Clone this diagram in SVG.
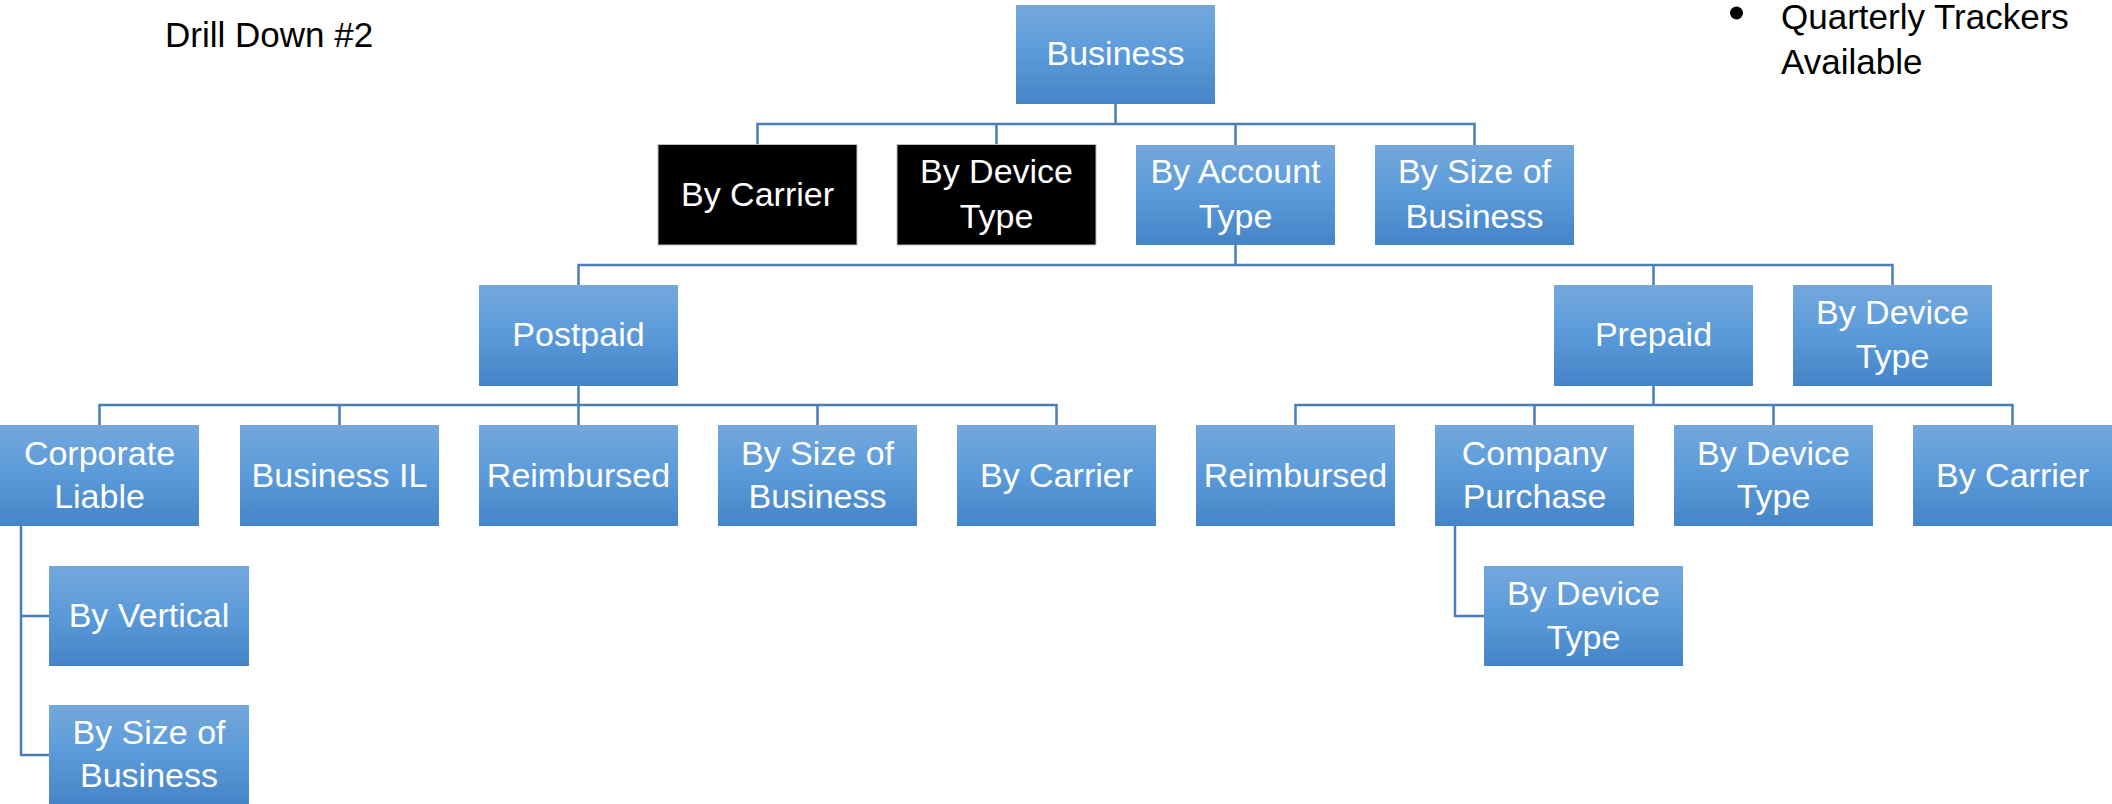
<svg xmlns="http://www.w3.org/2000/svg" width="2112" height="804" viewBox="0 0 2112 804">
<defs>
<linearGradient id="g" x1="0" y1="0" x2="0" y2="1">
<stop offset="0" stop-color="#74A8DC"/>
<stop offset="0.5" stop-color="#5A9ADA"/>
<stop offset="1" stop-color="#4585C7"/>
</linearGradient>
<style>
.b{fill:url(#g)}
.k{fill:#000;stroke:#c0c0c0;stroke-width:1}
.t{font-family:"Liberation Sans",Arial,sans-serif;font-size:34px;fill:#fff;text-anchor:middle}
.d{font-family:"Liberation Sans",Arial,sans-serif;font-size:35px;fill:#000}
.c{fill:none;stroke:#4A7EBB;stroke-width:2.5}
</style>
</defs>
<rect width="2112" height="804" fill="#fff"/>
<text class="d" x="165" y="47">Drill Down #2</text>
<g id="note">
<circle cx="1736.5" cy="13" r="6.5" fill="#000"/>
<text class="d" x="1781" y="29">Quarterly Trackers</text>
<text class="d" x="1781" y="74">Available</text>
</g>
<g id="connectors">
<path class="c" d="M1115.5 104V124M757.5 145V124H1474.5V145M996.5 124V145M1235.5 124V145"/>
<path class="c" d="M1235.5 245V265M578.5 285V265H1892.5V285M1653.5 265V285"/>
<path class="c" d="M578.5 386V405M99.5 425V405H1056.5V425M339.5 405V425M578.5 405V425M817.5 405V425"/>
<path class="c" d="M1653.5 386V405M1295.5 425V405H2012.5V425M1534.5 405V425M1773.5 405V425"/>
<path class="c" d="M21 526V755H49M21 616H49"/>
<path class="c" d="M1455 526V616H1484"/>
</g>
<g id="business"><rect class="b" x="1016" y="5" width="199" height="99"/><text class="t" x="1115.5" y="65">Business</text></g>
<g id="l1-carrier"><rect class="k" x="658" y="144.5" width="199" height="100.5"/><text class="t" x="757.5" y="206">By Carrier</text></g>
<g id="l1-device"><rect class="k" x="897" y="144.5" width="199" height="100.5"/><text class="t" x="996.5" y="183">By Device</text><text class="t" x="996.5" y="228">Type</text></g>
<g id="l1-account"><rect class="b" x="1136" y="145" width="199" height="100"/><text class="t" x="1235.5" y="183">By Account</text><text class="t" x="1235.5" y="228">Type</text></g>
<g id="l1-size"><rect class="b" x="1375" y="145" width="199" height="100"/><text class="t" x="1474.5" y="183">By Size of</text><text class="t" x="1474.5" y="228">Business</text></g>
<g id="postpaid"><rect class="b" x="479" y="285" width="199" height="101"/><text class="t" x="578.5" y="346">Postpaid</text></g>
<g id="prepaid"><rect class="b" x="1554" y="285" width="199" height="101"/><text class="t" x="1653.5" y="346">Prepaid</text></g>
<g id="l2-device"><rect class="b" x="1793" y="285" width="199" height="101"/><text class="t" x="1892.5" y="324">By Device</text><text class="t" x="1892.5" y="368">Type</text></g>
<g id="pp-corporate"><rect class="b" x="0" y="425" width="199" height="101"/><text class="t" x="99.5" y="465">Corporate</text><text class="t" x="99.5" y="508">Liable</text></g>
<g id="pp-businessil"><rect class="b" x="240" y="425" width="199" height="101"/><text class="t" x="339.5" y="487">Business IL</text></g>
<g id="pp-reimbursed"><rect class="b" x="479" y="425" width="199" height="101"/><text class="t" x="578.5" y="487">Reimbursed</text></g>
<g id="pp-size"><rect class="b" x="718" y="425" width="199" height="101"/><text class="t" x="817.5" y="465">By Size of</text><text class="t" x="817.5" y="508">Business</text></g>
<g id="pp-carrier"><rect class="b" x="957" y="425" width="199" height="101"/><text class="t" x="1056.5" y="487">By Carrier</text></g>
<g id="pr-reimbursed"><rect class="b" x="1196" y="425" width="199" height="101"/><text class="t" x="1295.5" y="487">Reimbursed</text></g>
<g id="pr-company"><rect class="b" x="1435" y="425" width="199" height="101"/><text class="t" x="1534.5" y="465">Company</text><text class="t" x="1534.5" y="508">Purchase</text></g>
<g id="pr-device"><rect class="b" x="1674" y="425" width="199" height="101"/><text class="t" x="1773.5" y="465">By Device</text><text class="t" x="1773.5" y="508">Type</text></g>
<g id="pr-carrier"><rect class="b" x="1913" y="425" width="199" height="101"/><text class="t" x="2012.5" y="487">By Carrier</text></g>
<g id="cl-vertical"><rect class="b" x="49" y="566" width="200" height="100"/><text class="t" x="149" y="627">By Vertical</text></g>
<g id="cl-size"><rect class="b" x="49" y="705" width="200" height="100"/><text class="t" x="149" y="744">By Size of</text><text class="t" x="149" y="787">Business</text></g>
<g id="cp-device"><rect class="b" x="1484" y="566" width="199" height="100"/><text class="t" x="1583.5" y="605">By Device</text><text class="t" x="1583.5" y="649">Type</text></g>
</svg>
